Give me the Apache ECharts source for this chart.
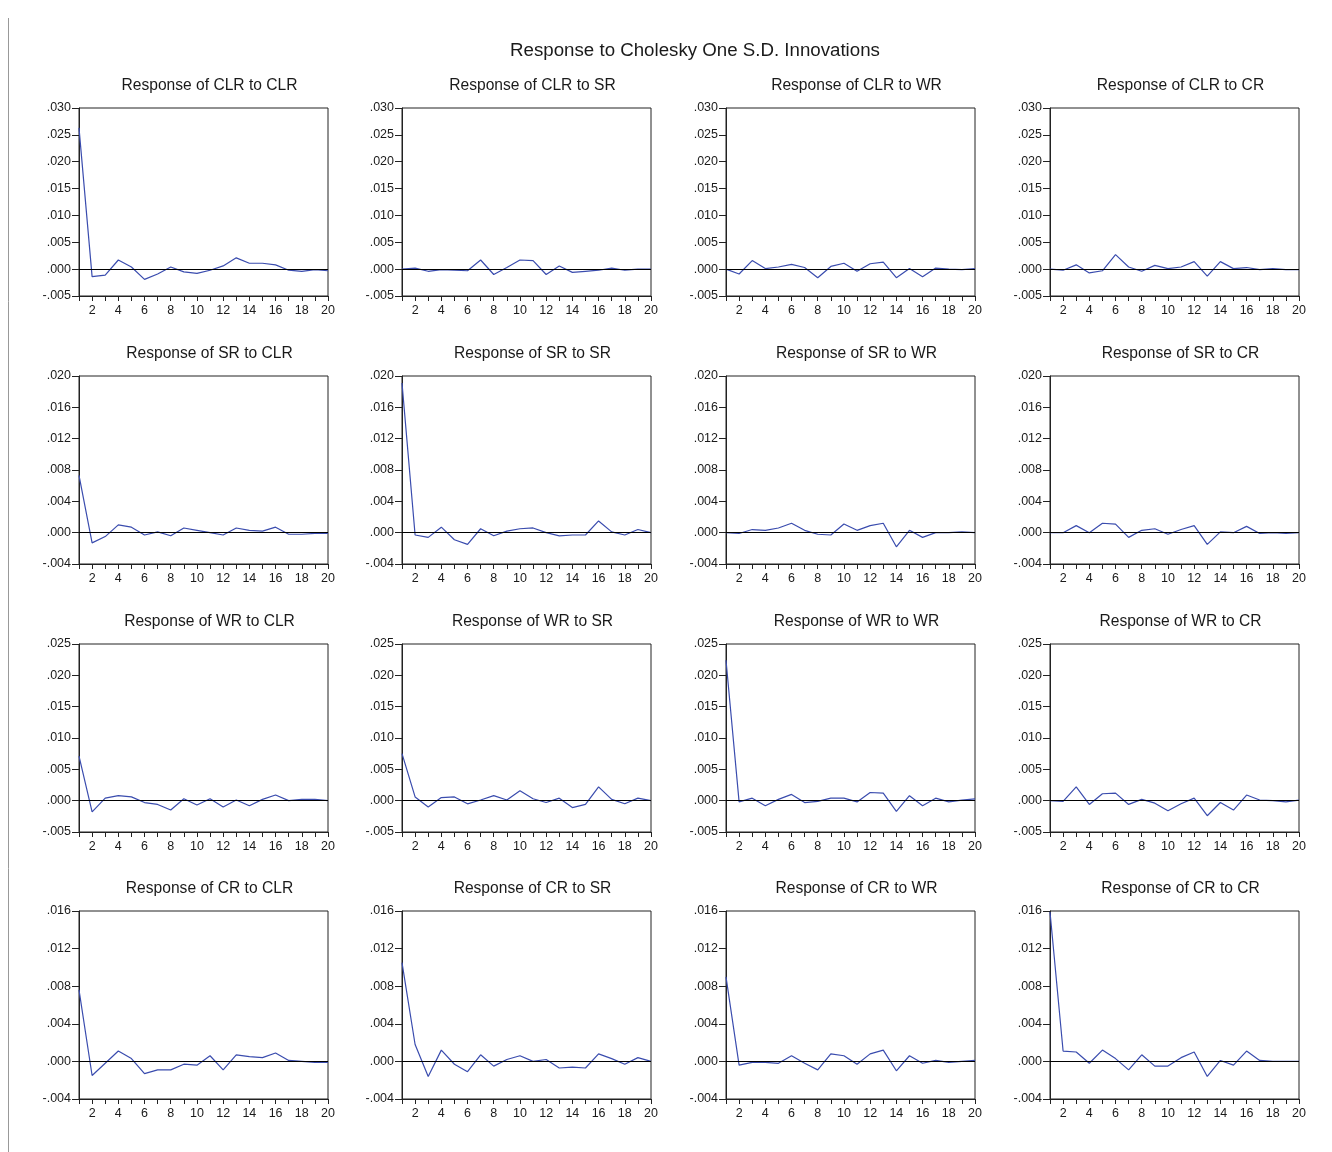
<!DOCTYPE html>
<html>
<head>
<meta charset="utf-8">
<script src="https://cdn.jsdelivr.net/npm/echarts@6/dist/echarts.min.js"></script>
<style>html,body{margin:0;padding:0;background:#fff}#c{width:1332px;height:1152px}</style>
</head>
<body>
<div id="c"></div>
<script>
var mainTitle = 'Response to Cholesky One S.D. Innovations';
var variables = ['CLR', 'SR', 'WR', 'CR'];
var periods = [1,2,3,4,5,6,7,8,9,10,11,12,13,14,15,16,17,18,19,20];

// y-axis ranges per response row
var rowMin = [-0.005, -0.004, -0.005, -0.004];
var rowMax = [0.030, 0.020, 0.025, 0.016];
var rowStep = [0.005, 0.004, 0.005, 0.004];

// Row 1: Response of CLR
var clr_clr = [0.0263,-0.0014,-0.0011,0.0017,0.0004,-0.0019,-0.0009,0.0004,-0.0005,-0.0008,-0.0002,0.0006,0.0021,0.0011,0.0011,0.0008,-0.0002,-0.0004,-0.0001,-0.0003];
var clr_sr  = [0.0000,0.0002,-0.0004,-0.0001,-0.0002,-0.0003,0.0017,-0.0010,0.0003,0.0017,0.0016,-0.0010,0.0006,-0.0006,-0.0004,-0.0002,0.0002,-0.0002,0.0000,0.0000];
var clr_wr  = [0.0000,-0.0009,0.0016,0.0001,0.0004,0.0009,0.0003,-0.0016,0.0005,0.0011,-0.0004,0.0010,0.0013,-0.0016,0.0001,-0.0014,0.0002,0.0000,-0.0001,0.0001];
var clr_cr  = [0.0000,-0.0002,0.0008,-0.0007,-0.0003,0.0027,0.0004,-0.0004,0.0007,0.0001,0.0004,0.0014,-0.0013,0.0014,0.0001,0.0003,-0.0001,0.0001,-0.0001,-0.0001];
// Row 2: Response of SR
var sr_clr = [0.0073,-0.0013,-0.0005,0.0010,0.0007,-0.0003,0.0001,-0.0004,0.0006,0.0003,0.0000,-0.0003,0.0006,0.0003,0.0002,0.0007,-0.0002,-0.0002,-0.0001,-0.0001];
var sr_sr  = [0.0191,-0.0003,-0.0006,0.0007,-0.0009,-0.0015,0.0005,-0.0004,0.0002,0.0005,0.0006,0.0000,-0.0004,-0.0003,-0.0003,0.0015,0.0001,-0.0003,0.0004,0.0000];
var sr_wr  = [0.0000,-0.0001,0.0004,0.0003,0.0006,0.0012,0.0003,-0.0002,-0.0003,0.0011,0.0003,0.0009,0.0012,-0.0018,0.0003,-0.0006,0.0000,0.0000,0.0001,0.0000];
var sr_cr  = [0.0000,0.0000,0.0009,0.0000,0.0012,0.0011,-0.0006,0.0003,0.0005,-0.0002,0.0004,0.0009,-0.0015,0.0001,0.0000,0.0008,-0.0001,0.0000,-0.0001,0.0000];
// Row 3: Response of WR
var wr_clr = [0.0071,-0.0018,0.0004,0.0008,0.0006,-0.0003,-0.0006,-0.0015,0.0003,-0.0007,0.0003,-0.0010,0.0001,-0.0008,0.0002,0.0009,0.0000,0.0002,0.0002,0.0000];
var wr_sr  = [0.0075,0.0006,-0.0010,0.0005,0.0006,-0.0005,0.0001,0.0008,0.0001,0.0016,0.0003,-0.0003,0.0004,-0.0011,-0.0006,0.0022,0.0002,-0.0005,0.0004,0.0000];
var wr_wr  = [0.0224,-0.0002,0.0004,-0.0008,0.0002,0.0010,-0.0003,-0.0001,0.0004,0.0004,-0.0002,0.0013,0.0012,-0.0017,0.0008,-0.0008,0.0004,-0.0002,0.0001,0.0003];
var wr_cr  = [0.0000,-0.0001,0.0022,-0.0006,0.0011,0.0012,-0.0006,0.0002,-0.0004,-0.0016,-0.0005,0.0004,-0.0024,-0.0003,-0.0015,0.0009,0.0001,0.0000,-0.0002,0.0001];
// Row 4: Response of CR
var cr_clr = [0.0076,-0.0015,-0.0002,0.0011,0.0003,-0.0013,-0.0009,-0.0009,-0.0003,-0.0004,0.0006,-0.0009,0.0007,0.0005,0.0004,0.0009,0.0001,0.0000,-0.0001,-0.0001];
var cr_sr  = [0.0105,0.0018,-0.0016,0.0012,-0.0003,-0.0011,0.0007,-0.0005,0.0002,0.0006,0.0000,0.0002,-0.0007,-0.0006,-0.0007,0.0008,0.0003,-0.0003,0.0004,0.0000];
var cr_wr  = [0.0090,-0.0004,-0.0001,-0.0001,-0.0002,0.0006,-0.0002,-0.0009,0.0008,0.0006,-0.0003,0.0008,0.0012,-0.0010,0.0006,-0.0002,0.0001,-0.0001,0.0000,0.0001];
var cr_cr  = [0.0159,0.0011,0.0010,-0.0002,0.0012,0.0003,-0.0009,0.0007,-0.0005,-0.0005,0.0004,0.0010,-0.0016,0.0001,-0.0004,0.0011,0.0001,0.0000,0.0000,0.0000];

var responses = [
  [clr_clr, clr_sr, clr_wr, clr_cr],
  [sr_clr, sr_sr, sr_wr, sr_cr],
  [wr_clr, wr_sr, wr_wr, wr_cr],
  [cr_clr, cr_sr, cr_wr, cr_cr]
];

var lefts = [79, 402, 726, 1050];
var tops = [108, 376, 644, 911];
var W = 249, H = 188;
var FONT = 'Arimo, "Liberation Sans", Arial, sans-serif';

function fmtY(v) {
  var s = (Math.round(v * 1000) / 1000).toFixed(3);
  return s.replace('0.', '.');
}

var grids = [], xAxes = [], yAxes = [], series = [], titles = [];
titles.push({
  text: mainTitle, left: 690, top: 36, textAlign: 'center',
  textStyle: {fontFamily: FONT, fontSize: 18.7, fontWeight: 'normal', color: '#1a1a1a'}
});
var k = 0;
for (var r = 0; r < 4; r++) {
  for (var c = 0; c < 4; c++) {
    grids.push({left: lefts[c], top: tops[r], width: W, height: H, show: true,
      borderColor: '#222', borderWidth: 1, backgroundColor: 'transparent', containLabel: false});
    titles.push({
      text: 'Response of ' + variables[r] + ' to ' + variables[c],
      left: lefts[c] + W / 2 + 1, top: tops[r] - 35, textAlign: 'center',
      textStyle: {fontFamily: FONT, fontSize: 15.6, fontWeight: 'normal', color: '#1a1a1a'}
    });
    xAxes.push({
      type: 'value', gridIndex: k, min: 1, max: 20, interval: 1,
      axisLine: {show: true, onZero: false, lineStyle: {color: '#222', width: 1}},
      axisTick: {show: true, inside: false, length: 5, lineStyle: {color: '#222'}},
      axisLabel: {fontFamily: FONT, fontSize: 12.5, color: '#1a1a1a', margin: 8,
        formatter: function (v) { return v % 2 === 0 ? String(v) : ''; }},
      splitLine: {show: false}
    });
    yAxes.push({
      type: 'value', gridIndex: k, min: rowMin[r], max: rowMax[r], interval: rowStep[r],
      axisLine: {show: true, onZero: false, lineStyle: {color: '#222', width: 1}},
      axisTick: {show: true, inside: false, length: 7, lineStyle: {color: '#222'}},
      axisLabel: {fontFamily: FONT, fontSize: 12.5, color: '#1a1a1a', margin: 8, formatter: fmtY},
      splitLine: {show: false}
    });
    var data = periods.map(function (p, i) { return [p, responses[r][c][i]]; });
    series.push({
      type: 'line', xAxisIndex: k, yAxisIndex: k, data: data,
      symbol: 'none', animation: false,
      lineStyle: {color: '#3a4cae', width: 1.2},
      itemStyle: {color: '#3a4cae'},
      markLine: {silent: true, symbol: 'none', label: {show: false},
        lineStyle: {color: '#000', width: 1, type: 'solid'},
        data: [{yAxis: 0}], animation: false}
    });
    k++;
  }
}

var chart = echarts.init(document.getElementById('c'), null, {renderer: 'canvas'});
chart.setOption({
  backgroundColor: '#fff',
  animation: false,
  title: titles,
  grid: grids,
  xAxis: xAxes,
  yAxis: yAxes,
  series: series,
  graphic: [{
    type: 'line', silent: true,
    shape: {x1: 8.5, y1: 18, x2: 8.5, y2: 1152},
    style: {stroke: '#999', lineWidth: 1}
  }]
});
</script>
</body>
</html>
